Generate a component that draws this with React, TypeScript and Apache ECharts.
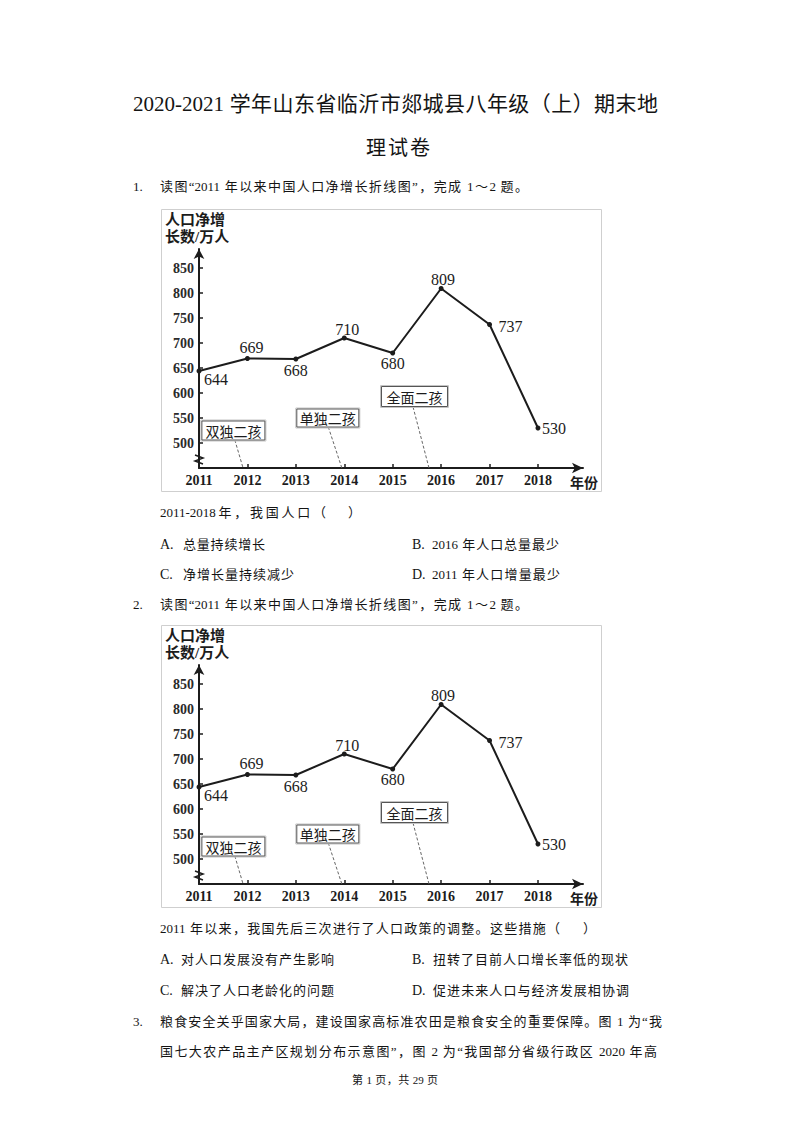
import React, { useEffect, useRef } from 'react';
import * as echarts from 'echarts';

// ---- data ----
const years = [2011, 2012, 2013, 2014, 2015, 2016, 2017, 2018];
const netGrowth = [644, 669, 668, 710, 680, 809, 737, 530];
const yTicks = [500, 550, 600, 650, 700, 750, 800, 850];
const policyNames = ['双独二孩', '单独二孩', '全面二孩'];
const yAxisName = ['人口净增', '长数/万人'];
const xAxisName = '年份';

const SERIF = "'Liberation Serif', 'Noto Sans CJK SC', serif";
const CJK = "'Noto Sans CJK SC', 'Liberation Serif', sans-serif";
const INK = '#1c1c1c';

// label offsets (px) around each point, to mimic the reference placement
const labelOffsets: [number, number][] = [
  [17, 8], [4, -11], [0, 11], [3, -9], [0, 10], [2, -9], [21, 2], [16, 0],
];
// policy annotation anchors in data coordinates: box centre, leader top, leader foot
const policyAnchors = [
  { box: [2011.71, 525], top: [2011.74, 506], foot: [2011.91, 450], w: 63, h: 19 },
  { box: [2013.66, 550], top: [2013.67, 532], foot: [2013.95, 450], w: 62, h: 18 },
  { box: [2015.45, 593], top: [2015.42, 572], foot: [2015.75, 450], w: 66, h: 20 },
];

function PopChart({ top }: { top: number }) {
  const ref = useRef<HTMLDivElement>(null);
  useEffect(() => {
    const chart = echarts.init(ref.current!, null, { renderer: 'svg' });
    const axisLineStyle = { color: INK, width: 2 };
    const option: any = {
      animation: false,
      grid: { left: 38, top: 40, width: 384, height: 219 },
      xAxis: {
        type: 'value',
        min: 2011,
        max: 2018.93,
        axisLine: { show: true, symbol: ['none', 'arrow'], symbolSize: [8, 11], lineStyle: axisLineStyle },
        axisTick: { show: true, inside: true, length: 4, customValues: years, lineStyle: { color: INK, width: 1.5 } },
        axisLabel: {
          customValues: years,
          margin: 5,
          fontFamily: SERIF,
          fontSize: 14,
          fontWeight: 'bold',
          color: INK,
          formatter: (v: number) => String(v),
        },
        splitLine: { show: false },
      },
      yAxis: {
        type: 'value',
        min: 450,
        max: 888,
        axisLine: { show: true, symbol: ['none', 'arrow'], symbolSize: [8, 10], lineStyle: axisLineStyle },
        axisTick: { show: true, inside: true, length: 4, customValues: yTicks, lineStyle: { color: INK, width: 1.5 } },
        axisLabel: {
          customValues: yTicks,
          margin: 5,
          fontFamily: SERIF,
          fontSize: 14,
          fontWeight: 'bold',
          color: '#2a2a2a',
        },
        splitLine: { show: false },
      },
      series: [
        {
          type: 'line',
          data: years.map((y, i) => ({ value: [y, netGrowth[i]], label: { offset: labelOffsets[i] } })),
          symbol: 'circle',
          symbolSize: 5,
          lineStyle: { color: INK, width: 2 },
          itemStyle: { color: INK },
          label: {
            show: true,
            position: 'inside',
            align: 'center',
            verticalAlign: 'middle',
            fontFamily: SERIF,
            fontSize: 16,
            color: INK,
            formatter: (p: any) => String(p.value[1]),
          },
          z: 3,
        },
      ],
    };
    chart.setOption(option);

    const px = (c: number[]) => chart.convertToPixel({ gridIndex: 0 }, c) as number[];
    const graphics: any[] = [
      {
        type: 'rect',
        shape: { x: 0.5, y: 0.5, width: 440, height: 282 },
        style: { fill: 'none', stroke: '#cfcfcf', lineWidth: 1 },
        silent: true,
      },
      {
        type: 'text',
        x: 4,
        y: 11,
        style: { text: yAxisName[0], font: `bold 15px ${SERIF}`, fill: INK, textVerticalAlign: 'middle' },
      },
      {
        type: 'text',
        x: 4,
        y: 28,
        style: { text: yAxisName[1], font: `bold 15px ${SERIF}`, fill: INK, textVerticalAlign: 'middle' },
      },
      {
        type: 'text',
        x: 423,
        y: 273,
        style: { text: xAxisName, font: `bold 14px ${CJK}`, fill: INK, textAlign: 'center', textVerticalAlign: 'middle' },
      },
      {
        type: 'polyline',
        shape: { points: [[34, 246], [42, 249], [34, 252], [42, 255]] },
        style: { stroke: INK, lineWidth: 1.5, fill: 'none' },
        z: 10,
      },
    ];
    policyAnchors.forEach((a, i) => {
      const c = px(a.box);
      const t = px(a.top);
      const f = px(a.foot);
      graphics.push({
        type: 'line',
        shape: { x1: t[0], y1: t[1], x2: f[0], y2: f[1] },
        style: { stroke: '#666', lineWidth: 1, lineDash: [3, 2] },
        z: 5,
      });
      graphics.push({
        type: 'rect',
        shape: { x: c[0] - a.w / 2 - 1, y: c[1] - a.h / 2 - 1, width: a.w + 2, height: a.h + 2 },
        style: { fill: '#fff', stroke: '#c4c4c4', lineWidth: 1 },
        z: 6,
      });
      graphics.push({
        type: 'rect',
        shape: { x: c[0] - a.w / 2, y: c[1] - a.h / 2, width: a.w, height: a.h },
        style: { fill: '#fff', stroke: '#555', lineWidth: 1 },
        z: 7,
      });
      graphics.push({
        type: 'text',
        x: c[0],
        y: c[1],
        style: {
          text: policyNames[i],
          font: `14px ${CJK}`,
          fill: INK,
          textAlign: 'center',
          textVerticalAlign: 'middle',
        },
        z: 8,
      });
    });
    chart.setOption({ graphic: graphics });
    return () => chart.dispose();
  }, []);
  return (
    <div
      ref={ref}
      style={{ position: 'absolute', left: 161, top, width: 442, height: 283 }}
    />
  );
}

type LineProps = { x: number; y: number; text: string; size?: number; w?: number; family?: string };
function T({ x, y, text, size = 13, w, family = SERIF }: LineProps) {
  const style: React.CSSProperties = {
    position: 'absolute',
    left: x,
    top: y - size * 0.6,
    fontSize: size,
    lineHeight: `${size * 1.2}px`,
    fontFamily: family,
    color: '#141414',
    margin: 0,
  };
  if (w) {
    style.width = w;
    style.textAlign = 'justify';
    (style as any).textAlignLast = 'justify';
  } else {
    style.whiteSpace = 'pre';
  }
  return <div style={style}>{text}</div>;
}

export default function App() {
  return (
    <div
      style={{
        position: 'absolute',
        left: 0,
        top: 0,
        width: 793,
        height: 1122,
        background: '#fff',
        overflow: 'hidden',
      }}
    >
      <T x={133} y={105} w={525} size={21} text="2020-2021 学年山东省临沂市郯城县八年级（上）期末地" />
      <T x={366} y={148} w={64} size={20} text="理试卷" />

      <T x={133} y={187} text="1." />
      <T x={160} y={187} w={368} text="读图“2011 年以来中国人口净增长折线图”，完成 1～2 题。" />
      <PopChart top={209} />
      <T x={160} y={513} w={166} text="2011-2018年，我国人口（" />
      <T x={348} y={513} text="）" />
      <T x={160} y={545} size={14} text="A." />
      <T x={183} y={545} w={82} text="总量持续增长" />
      <T x={412} y={545} size={14} text="B." />
      <T x={432} y={545} w={127} text="2016 年人口总量最少" />
      <T x={160} y={575} size={14} text="C." />
      <T x={183} y={575} w={111} text="净增长量持续减少" />
      <T x={412} y={575} size={14} text="D." />
      <T x={432} y={575} w={128} text="2011 年人口增量最少" />

      <T x={133} y={605} text="2." />
      <T x={160} y={605} w={368} text="读图“2011 年以来中国人口净增长折线图”，完成 1～2 题。" />
      <PopChart top={625} />
      <T x={160} y={929} w={400} text="2011 年以来，我国先后三次进行了人口政策的调整。这些措施（" />
      <T x={583} y={929} text="）" />
      <T x={160} y={960} size={14} text="A." />
      <T x={181} y={960} w={153} text="对人口发展没有产生影响" />
      <T x={412} y={960} size={14} text="B." />
      <T x={433} y={960} w={195} text="扭转了目前人口增长率低的现状" />
      <T x={160} y={991} size={14} text="C." />
      <T x={181} y={991} w={153} text="解决了人口老龄化的问题" />
      <T x={412} y={991} size={14} text="D." />
      <T x={433} y={991} w={196} text="促进未来人口与经济发展相协调" />

      <T x={133} y={1022} text="3." />
      <T x={160} y={1022} w={502} text="粮食安全关乎国家大局，建设国家高标准农田是粮食安全的重要保障。图 1 为“我" />
      <T x={160} y={1052} w={497} text="国七大农产品主产区规划分布示意图”，图 2 为“我国部分省级行政区 2020 年高" />
      <T x={352} y={1081} w={86} size={11} text="第 1 页，共 29 页" />
    </div>
  );
}
